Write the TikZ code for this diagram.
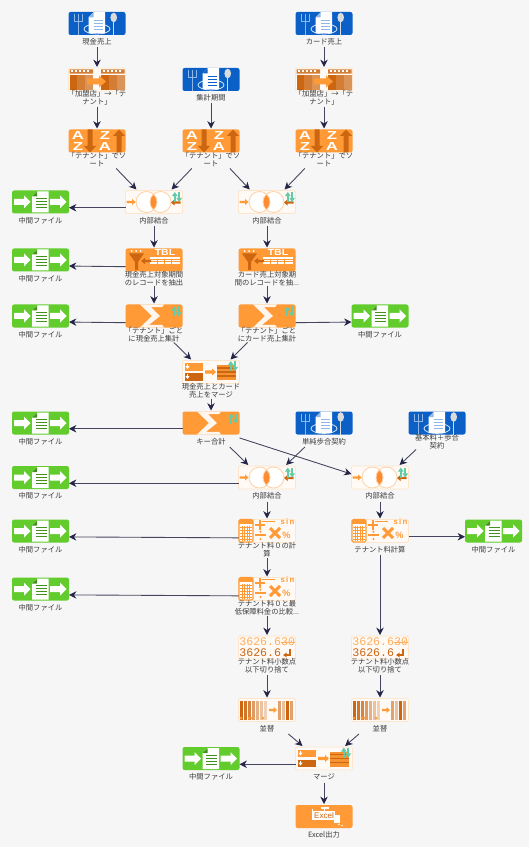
\documentclass[tikz,border=0pt]{standalone}
\usepackage{fontspec}
\setmainfont{Noto Sans CJK JP}
\newfontfamily\iconfont{Liberation Sans}
\newfontfamily\digitfont{Liberation Mono}
\usetikzlibrary{
    arrows.meta,
}
\definecolor{PageGray}{HTML}{F6F6F6}
\definecolor{MenuBlue}{HTML}{0B60C8}
\definecolor{FileGreen}{HTML}{62CC2C}
\definecolor{OpOrange}{HTML}{FF9A36}
\definecolor{OpDark}{HTML}{CC6611}
\definecolor{OpPale}{HTML}{FFFAF5}
\definecolor{OpEdge}{HTML}{FDE6CC}
\definecolor{SwapTeal}{HTML}{63CBA8}
\definecolor{LinkNavy}{HTML}{25254A}
\definecolor{LabelGray}{HTML}{3A3A3A}

% block arrow: x0, x1, y, half body, half head, signed head length, colour
\newcommand{\fatarrow}[7]{\fill[#7] (#1,{#3-#4}) -- ({#2-#6},{#3-#4}) -- ({#2-#6},{#3-#5}) -- (#2,#3) -- ({#2-#6},{#3+#5}) -- ({#2-#6},{#3+#4}) -- (#1,{#3+#4}) -- cycle;}
\newcommand{\swapmark}[2]{%
    \draw[swapline] ({#1-2.2},{#2+5}) -- ({#1-2.2},{#2-5});
    \draw[swapline] ({#1+2.2},{#2-5}) -- ({#1+2.2},{#2+5});}
% cell = icon plus its caption; links run between cells
\newcommand{\flowcell}[6][36.5]{%
    \node[cell, minimum height=#1*0.02cm] (#2) at (#3,{#4-12.5+#1/2}) {};
    \pic (#2i) at (#3,#4) {#5};
    \node[celltext] (#2t) at (#3,{#4+18.5}) {#6};}

\tikzset{
    cell/.style={rectangle, inner sep=0pt, outer sep=0pt, minimum width=57*0.02cm},
    celltext/.style={inner sep=0pt, align=center, text=LabelGray, font=\fontsize{4.15}{4.75}\selectfont},
    link/.style={line width=0.5pt, draw=LinkNavy!65!gray, arrows={-{Stealth[length=4.2pt, width=4.2pt, color=LinkNavy]}}},
    solidbox/.style={fill=#1, rounded corners=1.2pt},
    palebox/.style={fill=OpPale, draw=OpEdge, line width=0.5pt, rounded corners=0.8pt},
    swapline/.style={draw=SwapTeal, line width=1pt, -{Triangle[length=2.4pt, width=3.2pt]}},
    icontext/.style={inner sep=0pt, font=\iconfont\bfseries\fontsize{#1}{#1}\selectfont},
    % blue table setting
    pics/menu/.style={code={
        \path[solidbox=MenuBlue] (-28.5,-11.5) rectangle (28.5,11.5);
        \draw[white!55!MenuBlue, line width=0.45pt] (-23,-9) -- (-23,-2) -- (-15,-2) -- (-15,-9) (-19,-9) -- (-19,11.5);
        \fill[white!72!gray] (16.7,-6) ellipse (3.3 and 4.8);
        \draw[white!72!gray, line width=0.6pt] (16.7,-2) -- (16.7,11.5);
        \draw[white!85!MenuBlue, line width=0.45pt] (0,5.5) ellipse (13 and 5);
        \fill[white] (-3,-11.5) -- (8,-11.5) -- (8,10) -- (-8.5,10) -- (-8.5,-6) -- cycle;
        \fill[#1] (-3.5,-11) -- (-3.5,-6) -- (-8.5,-6) -- cycle;
        \foreach \liney in {-3.5,-0.5,2.5,5.5} {\draw[#1, line width=0.5pt] (-3.5,\liney) -- (5.5,\liney);}
    }},
    pics/menu/.default=MenuBlue!45!white,
    % green intermediate file
    pics/midfile/.style={code={
        \path[solidbox=FileGreen] (-28.5,-11.5) rectangle (28.5,11.5);
        \fatarrow{-26.5}{-10}{0}{3}{6.5}{6.5}{white}
        \fatarrow{9.5}{26}{0}{3}{6.5}{6.5}{white}
        \fill[white] (-3,-10.5) -- (8,-10.5) -- (8,10.5) -- (-8.5,10.5) -- (-8.5,-5.5) -- cycle;
        \fill[FileGreen!70!black] (-3.5,-10) -- (-3.5,-5.5) -- (-8.5,-5.5) -- cycle;
        \foreach \liney in {-3.5,-0.5,2.5,5.5} {\draw[FileGreen!70!black, line width=0.4pt] (-5,\liney) -- (6,\liney);}
    }},
    % column rename
    pics/rename/.style={code={
        \path[palebox] (-28.5,-11.5) rectangle (28.5,11.5);
        \fill[OpDark!85!white] (-27.5,-10) rectangle (-4,-5.8) (4,-10) rectangle (27.5,-5.8);
        \foreach \cellx in {-26,-22,-18,-14,-10,6,10,14,18,22} {\fill[white] (\cellx,-9) rectangle ++(2.2,2);}
        \fill[OpDark] (-27.5,-4.5) rectangle (-20,10.5);
        \fill[OpDark!85!white] (-20,-4.5) rectangle (-12,10.5);
        \fill[OpDark!70!white] (-12,-4.5) rectangle (-4,10.5);
        \fill[OpDark] (4,-4.5) rectangle (12,10.5);
        \fill[OpDark!85!white] (12,-4.5) rectangle (20,10.5);
        \fill[OpDark!70!white] (20,-4.5) rectangle (27.5,10.5);
        \fatarrow{-10}{9}{2}{3}{6}{7}{OpOrange}
    }},
    % A-Z sort
    pics/azsort/.style={code={
        \path[solidbox=OpOrange] (-28.5,-11.5) rectangle (28.5,11.5);
        \node[icontext=6.6, text=white, xscale=1.45, transform shape] (-a) at (-19,-5.5) {A};
        \node[icontext=6.6, text=white, xscale=1.45, transform shape] (-b) at (-19,5.5) {Z};
        \node[icontext=6.6, text=white, xscale=1.45, transform shape] (-c) at (8,-5.5) {Z};
        \node[icontext=6.6, text=white, xscale=1.45, transform shape] (-d) at (8,5.5) {A};
        \fill[OpDark] (-9.5,-11.5) rectangle (-4.5,5) -- (-1,5) -- (-7,11.5) -- (-13,5) -- (-9.5,5) -- cycle;
        \fill[OpDark] (19.5,11.5) rectangle (24.5,-5) -- (28,-5) -- (22,-11.5) -- (16,-5) -- (19.5,-5) -- cycle;
    }},
    % inner join
    pics/innerjoin/.style={code={
        \path[palebox] (-28.5,-11.5) rectangle (28.5,11.5);
        \fill[white] (-7.5,0) circle (10.5) (6.5,0) circle (10.5);
        \begin{scope}
            \clip (-7.5,0) circle (10.5);
            \fill[OpOrange!90!red] (6.5,0) circle (10.5);
        \end{scope}
        \draw[OpEdge!75!OpOrange, line width=0.5pt] (-7.5,0) circle (10.5) (6.5,0) circle (10.5);
        \fatarrow{-27.5}{-18.5}{0}{1.2}{3}{3.5}{OpOrange}
        \fatarrow{26.5}{17}{0.5}{1.2}{3}{-3.5}{OpDark}
        \swapmark{23}{-5}
    }},
    % record filter on a table
    pics/tablefilter/.style={code={
        \path[solidbox=OpOrange] (-28.5,-11.5) rectangle (28.5,11.5);
        \fill[OpDark] (-25,-6.5) -- (-10,-6.5) -- (-16,2) -- (-16,10) -- (-19,10) -- (-19,2) -- cycle;
        \foreach \dotx in {-22.5,-18,-13.5} {\fill[white] (\dotx,-9) circle (1);}
        \fill[white] (-4,-3) rectangle (26,5.5);
        \foreach \liney in {-0.5,1.8,4} {\draw[OpOrange, line width=0.4pt] (-4,\liney) -- (26,\liney);}
        \foreach \linex in {3,10,17} {\draw[OpOrange, line width=0.4pt] (\linex,-1) -- (\linex,5.5);}
        \fatarrow{-3}{-13}{1}{1.2}{3.2}{-4}{OpDark}
        \node[icontext=5, text=white, xscale=1.2, transform shape] (-t) at (11,-7.5) {TBL};
    }},
    % key sum
    pics/keysum/.style={code={
        \path[solidbox=OpOrange] (-28.5,-11.5) rectangle (28.5,11.5);
        \fill[white!92!OpOrange] (-14,-11.5) -- (10,-11.5) -- (8,-8.8) -- (-3,-8.8) -- (6,0) -- (-5,8.8) -- (8,8.8) -- (10,11.5) -- (-14,11.5) -- (-2,0) -- cycle;
        \swapmark{22.5}{-4.5}
    }},
    % merge
    pics/mergeicon/.style={code={
        \path[palebox] (-28.5,-11.5) rectangle (28.5,11.5);
        \fill[OpOrange] (-26.5,-9) rectangle (-8,-1.5);
        \fill[OpDark] (-26.5,1) rectangle (-8,8.5);
        \draw[white, line width=0.5pt, -{Triangle[length=1.6pt, width=2.2pt]}] (-23.5,-7.8) -- (-23.5,-3);
        \draw[white, line width=0.5pt, -{Triangle[length=1.6pt, width=2.2pt]}] (-23.5,2.2) -- (-23.5,7);
        \fatarrow{-6}{5}{0}{1.6}{3.5}{4}{OpOrange}
        \fill[OpOrange!85!OpDark] (6,-7) rectangle (25,8);
        \foreach \liney in {-4,0,4} {\draw[OpDark, line width=0.6pt] (6,\liney) -- (25,\liney);}
        \swapmark{22}{-6}
    }},
    % tenant fee calculation
    pics/calcicon/.style={code={
        \path[palebox] (-28.5,-11.5) rectangle (28.5,11.5);
        \draw[OpOrange, fill=white, line width=0.6pt, rounded corners=0.8pt] (-28,-11.5) rectangle (-14,11);
        \fill[OpOrange] (-28,-11.5) rectangle (-14,-7.5);
        \foreach \gridx in {-25,-22.5,-20,-17.5} {\draw[OpOrange, line width=0.35pt] (\gridx,-5.5) -- (\gridx,10);}
        \foreach \gridy in {-4,-1,2,5,8} {\draw[OpOrange, line width=0.35pt] (-27,\gridy) -- (-15,\gridy);}
        \draw[OpOrange, line width=0.9pt] (-12,-6) -- (-2,-6) (-7,-11) -- (-7,-1) (-5,-9.5) -- (8,-9.5) (-12,4) -- (-1,4);
        \fill[OpOrange] (-6.5,0.8) circle (1.1) (-6.5,8) circle (1.1);
        \draw[OpOrange, line width=1.7pt] (3,-3) -- (13,7) (13,-3) -- (3,7);
        \node[icontext=4.4, text=OpOrange] (-s) at (20.5,-9) {s\,i\,n};
        \node[icontext=5.2, text=OpOrange] (-p) at (19.5,4.5) {\%};
    }},
    % decimal cut
    pics/roundicon/.style={code={
        \path[palebox] (-28.5,-11.5) rectangle (28.5,11.5);
        \node[inner sep=0pt, font=\digitfont\fontsize{6.6}{6.6}\selectfont, text=OpOrange!80!white, anchor=west] (-a) at (-28,-5.5) {3626.630};
        \node[inner sep=0pt, font=\digitfont\fontsize{6.6}{6.6}\selectfont, text=OpDark, anchor=west] (-b) at (-28,5.5) {3626.6};
        \draw[OpOrange!80!white, line width=0.5pt] (14,-5.5) -- (28,-5.5);
        \draw[OpDark, line width=0.6pt, -{Stealth[length=2.2pt, width=2.8pt]}] (23,1.5) -- (23,7.5) -- (16,7.5);
    }},
    % column sort
    pics/sorticon/.style={code={
        \path[palebox] (-28.5,-11.5) rectangle (28.5,11.5);
        \foreach \barx/\barmix in {-27.5/100,-23.5/90,-19.5/80,-15.5/65,-11.5/50,-7.5/40,-3.5/30} {\fill[OpDark!\barmix!white] (\barx,-9) rectangle ++(3.3,19);}
        \foreach \arrowx in {-26,-18,-15,-4} {\fill[OpOrange] ({\arrowx-1.5},7) -- ({\arrowx+1.5},7) -- (\arrowx,10) -- cycle;}
        \fatarrow{2}{10}{0}{1.2}{3}{3.5}{OpOrange}
        \foreach \barx/\barmix in {10.5/60,14.5/40,18.5/100,22.5/60} {\fill[OpDark!\barmix!white] (\barx,-9) rectangle ++(3.6,19);}
    }},
    % Excel output
    pics/excelicon/.style={code={
        \path[solidbox=OpOrange] (-28.5,-11.5) rectangle (28.5,11.5);
        \fill[white] (-12.5,-8) rectangle (-10.8,3.5);
        \fill[white] (-10.8,-5.5) rectangle (11,3.5);
        \fill[white] (-3.5,-9.5) rectangle (4.5,-8);
        \fill[white] (0,-9) rectangle (1,-5);
        \fill[white] (10,-2) rectangle (16,6);
        \fill[white] (15,8) circle (0.8) (18,9) circle (0.8);
        \node[inner sep=0pt, text=OpDark, font=\iconfont\fontsize{4.6}{4.6}\selectfont] (-t) at (0,-0.8) {Excel};
    }},
}

\begin{document}
\begin{tikzpicture}[x=0.02cm, y=-0.02cm]
    \path[use as bounding box, fill=PageGray] (0,0) rectangle (529,847);
    % sources and first steps
    \flowcell{cash}{97}{23.5}{menu}{現金売上}
    \flowcell{card}{324}{23.5}{menu}{カード売上}
    \flowcell{period}{211}{79.5}{menu=MenuBlue}{集計期間}
    \flowcell[40]{renameA}{97}{79.5}{rename}{「加盟店」→「テ\\ナント」}
    \flowcell[40]{renameB}{324}{79.5}{rename}{「加盟店」→「テ\\ナント」}
    \flowcell[40]{sortA}{97}{141}{azsort}{「テナント」でソ\\ート}
    \flowcell[40]{sortB}{211}{141}{azsort}{「テナント」でソ\\ート}
    \flowcell[40]{sortC}{324}{141}{azsort}{「テナント」でソ\\ート}
    % joins and filters
    \flowcell{joinA}{154}{202}{innerjoin}{内部結合}
    \flowcell{joinB}{267}{202}{innerjoin}{内部結合}
    \flowcell[39]{filterA}{154}{260}{tablefilter}{現金売上対象期間\\のレコードを抽出}
    \flowcell[39]{filterB}{267}{260}{tablefilter}{カード売上対象期\\間のレコードを抽...}
    \flowcell[39]{sumA}{154}{316}{keysum}{「テナント」ごと\\に現金売上集計}
    \flowcell[39]{sumB}{267}{316}{keysum}{「テナント」ごと\\にカード売上集計}
    \flowcell[39]{mergeA}{211}{372}{mergeicon}{現金売上とカード\\売上をマージ}
    \flowcell{sumC}{211}{423}{keysum}{キー合計}
    \flowcell{plain}{324}{423}{menu}{単純歩合契約}
    \flowcell[39]{basic}{437}{423}{menu}{基本料＋歩合\\契約}
    % tenant fee
    \flowcell{joinC}{267}{477.5}{innerjoin}{内部結合}
    \flowcell{joinD}{380}{477.5}{innerjoin}{内部結合}
    \flowcell[39]{calcA}{267}{531}{calcicon}{テナント料０の計\\算}
    \flowcell{calcB}{380}{531}{calcicon}{テナント料計算}
    \flowcell[39]{calcC}{267}{589}{calcicon}{テナント料０と最\\低保障料金の比較...}
    \flowcell[40]{roundA}{267}{647.5}{roundicon}{テナント料小数点\\以下切り捨て}
    \flowcell[40]{roundB}{380}{647.5}{roundicon}{テナント料小数点\\以下切り捨て}
    \flowcell{orderA}{267}{710}{sorticon}{並替}
    \flowcell{orderB}{380}{710}{sorticon}{並替}
    \flowcell{mergeB}{324}{758.5}{mergeicon}{マージ}
    \flowcell{excel}{324}{816.5}{excelicon}{Excel出力}
    % intermediate files
    \flowcell{fileA}{40.5}{202}{midfile}{中間ファイル}
    \flowcell{fileB}{40.5}{260}{midfile}{中間ファイル}
    \flowcell{fileC}{40.5}{316}{midfile}{中間ファイル}
    \flowcell{fileD}{380}{316}{midfile}{中間ファイル}
    \flowcell{fileE}{40.5}{423}{midfile}{中間ファイル}
    \flowcell{fileF}{40.5}{477.5}{midfile}{中間ファイル}
    \flowcell{fileG}{40.5}{531}{midfile}{中間ファイル}
    \flowcell{fileH}{493.5}{531}{midfile}{中間ファイル}
    \flowcell{fileI}{40.5}{589}{midfile}{中間ファイル}
    \flowcell{fileJ}{211}{758.5}{midfile}{中間ファイル}
    % links
    \draw[link] (cash) -- (renameA);
    \draw[link] (renameA) -- (sortA);
    \draw[link] (period) -- (sortB);
    \draw[link] (card) -- (renameB);
    \draw[link] (renameB) -- (sortC);
    \draw[link] (sortA) -- (joinA);
    \draw[link] (sortB) -- (joinA);
    \draw[link] (sortB) -- (joinB);
    \draw[link] (sortC) -- (joinB);
    \draw[link] (joinA) -- (fileA);
    \draw[link] (joinA) -- (filterA);
    \draw[link] (joinB) -- (filterB);
    \draw[link] (filterA) -- (fileB);
    \draw[link] (filterA) -- (sumA);
    \draw[link] (filterB) -- (sumB);
    \draw[link] (sumA) -- (fileC);
    \draw[link] (sumB) -- (fileD);
    \draw[link] (sumA) -- (mergeA);
    \draw[link] (sumB) -- (mergeA);
    \draw[link] (mergeA) -- (sumC);
    \draw[link] (sumC) -- (fileE);
    \draw[link] (sumC) -- (joinC);
    \draw[link] (sumC) -- (joinD);
    \draw[link] (plain) -- (joinC);
    \draw[link] (basic) -- (joinD);
    \draw[link] (joinC) -- (fileF);
    \draw[link] (joinC) -- (calcA);
    \draw[link] (joinD) -- (calcB);
    \draw[link] (calcA) -- (fileG);
    \draw[link] (calcB) -- (fileH);
    \draw[link] (calcA) -- (calcC);
    \draw[link] (calcC) -- (fileI);
    \draw[link] (calcC) -- (roundA);
    \draw[link] (calcB) -- (roundB);
    \draw[link] (roundA) -- (orderA);
    \draw[link] (roundB) -- (orderB);
    \draw[link] (orderA) -- (mergeB);
    \draw[link] (orderB) -- (mergeB);
    \draw[link] (mergeB) -- (fileJ);
    \draw[link] (mergeB) -- (excel);
\end{tikzpicture}
\end{document}
